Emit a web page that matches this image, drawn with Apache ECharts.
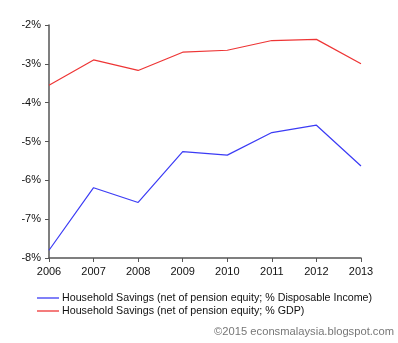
<!DOCTYPE html>
<html>
<head>
<meta charset="utf-8">
<script src="https://cdn.jsdelivr.net/npm/echarts@6/dist/echarts.min.js"></script>
<style>
  html, body { margin: 0; padding: 0; background: #fff; }
  #chart { width: 398px; height: 343px; }
</style>
</head>
<body>
<div id="chart"></div>
<script>
// Years on the x axis
const years = ['2006', '2007', '2008', '2009', '2010', '2011', '2012', '2013'];
// Household savings net of pension equity, % of disposable income
const savingsDisposable = [-7.80, -6.19, -6.57, -5.26, -5.35, -4.77, -4.58, -5.63];
// Household savings net of pension equity, % of GDP
const savingsGdp = [-3.55, -2.90, -3.17, -2.70, -2.65, -2.40, -2.37, -3.00];

const nameDisposable = 'Household Savings (net of pension equity; % Disposable Income)';
const nameGdp = 'Household Savings (net of pension equity; % GDP)';

const font = 'Liberation Sans, Arial, sans-serif';
const axisColor = '#555';

const chart = echarts.init(document.getElementById('chart'));
chart.setOption({
  animation: false,
  backgroundColor: '#fff',
  textStyle: { fontFamily: font },
  grid: { left: 49, right: 37, top: 25, bottom: 85 },
  title: {
    text: '©2015 econsmalaysia.blogspot.com',
    right: 4,
    bottom: 6,
    padding: 0,
    textStyle: { fontFamily: font, fontSize: 11.2, fontWeight: 'normal', color: '#777' }
  },
  legend: {
    orient: 'vertical',
    left: 37,
    top: 292,
    padding: 0,
    itemGap: 1,
    itemWidth: 22,
    itemHeight: 1.3,
    icon: 'rect',
    textStyle: { fontFamily: font, fontSize: 10.7, lineHeight: 12, color: '#111', padding: [0, 0, 0, -2] },
    data: [nameDisposable, nameGdp]
  },
  xAxis: {
    type: 'category',
    data: years,
    boundaryGap: false,
    axisLine: { show: true, lineStyle: { color: axisColor, width: 1.5 } },
    axisTick: { show: true, alignWithLabel: true, length: 4, lineStyle: { color: axisColor } },
    axisLabel: { color: '#111', fontSize: 11, fontFamily: font, margin: 8 },
    splitLine: { show: false }
  },
  yAxis: {
    type: 'value',
    min: -8,
    max: -2,
    interval: 1,
    axisLine: { show: true, lineStyle: { color: axisColor, width: 1.5 } },
    axisTick: { show: true, length: 4, lineStyle: { color: axisColor } },
    axisLabel: { color: '#111', fontSize: 11, fontFamily: font, margin: 8, formatter: v => v + '%' },
    splitLine: { show: false }
  },
  series: [
    {
      name: nameDisposable,
      type: 'line',
      data: savingsDisposable,
      symbol: 'none',
      color: '#3b3bf5',
      lineStyle: { width: 1.2, color: '#3b3bf5' }
    },
    {
      name: nameGdp,
      type: 'line',
      data: savingsGdp,
      symbol: 'none',
      color: '#ee3535',
      lineStyle: { width: 1.2, color: '#ee3535' }
    }
  ]
});
</script>
</body>
</html>
